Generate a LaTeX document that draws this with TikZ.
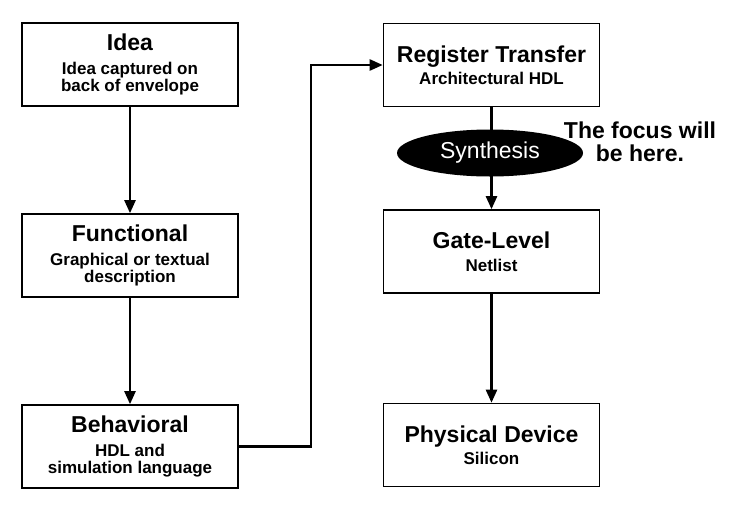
\documentclass[tikz,border=0pt]{standalone}
\usepackage{fontspec}
\setmainfont{Liberation Sans}
\usetikzlibrary{shapes.geometric,arrows.meta}
\newcommand{\ttlfont}{\fontsize{23}{25}\selectfont\bfseries}
\newcommand{\subfnt}{\fontsize{17}{17.5}\selectfont\bfseries}
\tikzset{
  stagebox/.style={draw=black, line width=1.6pt, fill=white, minimum width=216pt, minimum height=83pt, inner sep=0pt, align=center, font=\subfnt},
  flow/.style={line width=2.4pt, -{Triangle[length=13pt,width=11pt]}},
  plainline/.style={line width=2.4pt}
}
\begin{document}
\begin{tikzpicture}[x=1pt,y=-1pt]
\useasboundingbox[fill=white] (0,0) rectangle (756,512);
\node[stagebox] (idea) at (130,64.5) {{\ttlfont Idea}\\[6pt]Idea captured on\\back of envelope};
\node[stagebox] (func) at (130,255.5) {{\ttlfont Functional}\\[6pt]Graphical or textual\\description};
\node[stagebox] (beh) at (130,446.5) {{\ttlfont Behavioral}\\[6pt]HDL and\\simulation language};
\node[stagebox] (rt) at (491.5,65) {{\ttlfont Register Transfer}\\[5pt]Architectural HDL};
\node[stagebox] (gl) at (491.5,251.5) {{\ttlfont Gate-Level}\\[5pt]Netlist};
\node[stagebox] (pd) at (491.5,445) {{\ttlfont Physical Device}\\[5pt]Silicon};
\coordinate (c1) at (311,446.5);
\coordinate (c2) at (311,65);
\draw[flow] (idea) -- (func);
\draw[flow] (func) -- (beh);
\draw[flow] (beh.east) -- (c1) -- (c2) -- (rt.west);
\draw[flow] (rt) -- (gl);
\draw[flow] (gl) -- (pd);
\node[ellipse, fill=black, minimum width=186pt, minimum height=47pt, inner sep=0pt, text=white, font=\fontsize{23}{25}\selectfont] (syn) at (490,153) {Synthesis};
\node[align=center, inner sep=0pt, font=\fontsize{23}{23}\selectfont\bfseries] (focus) at (640,142) {The focus will\\be here.};
\end{tikzpicture}
\end{document}
